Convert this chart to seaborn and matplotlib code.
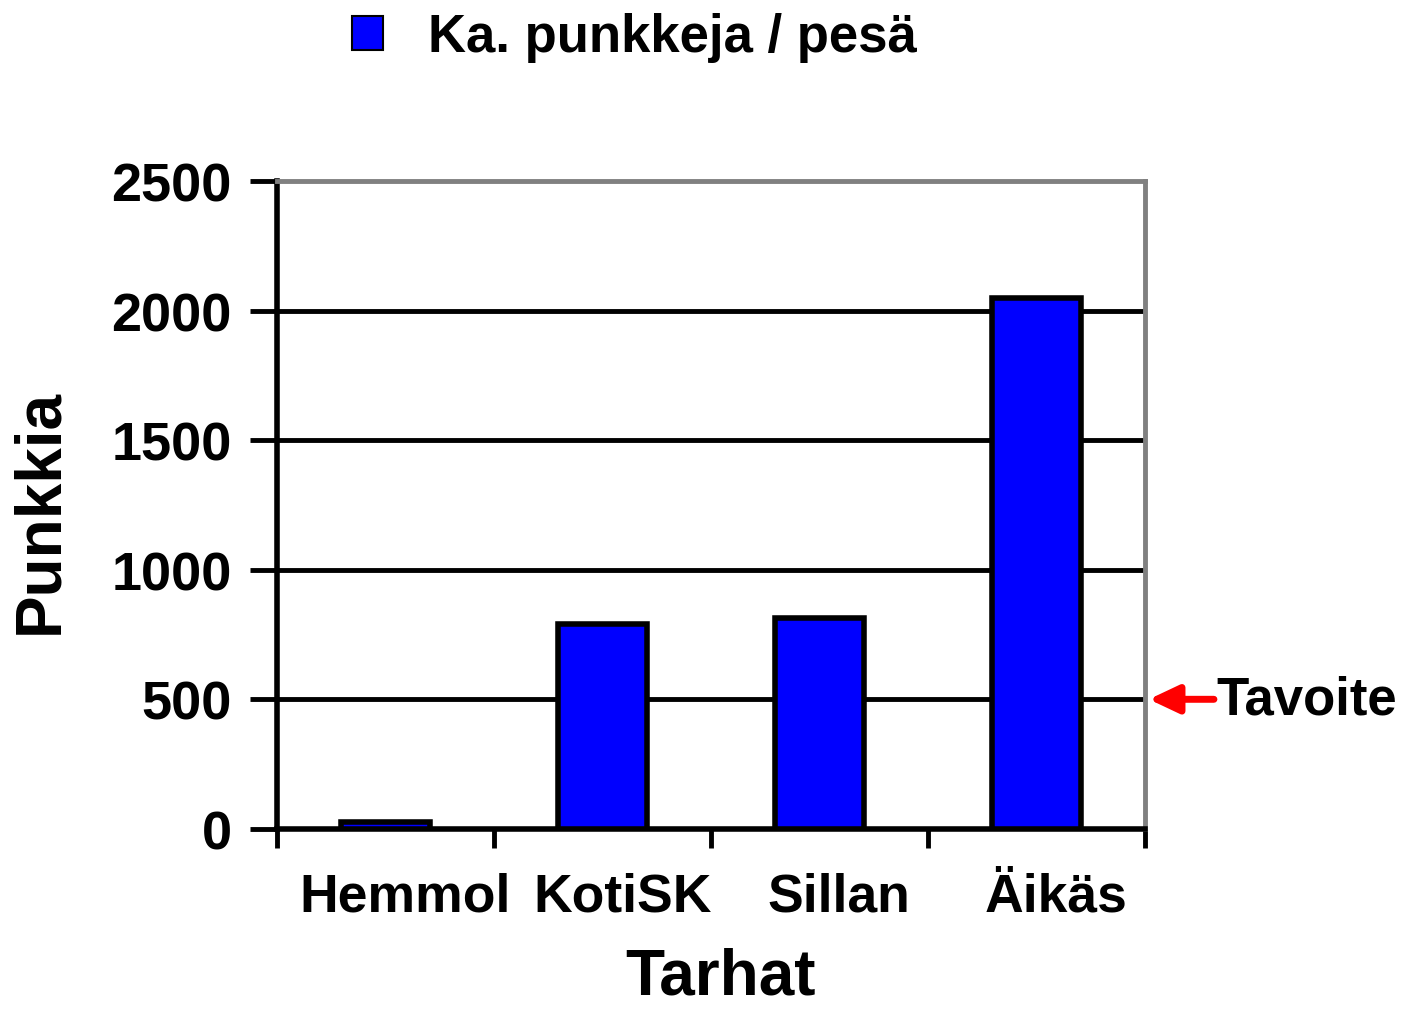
import numpy as np
import pandas as pd
import matplotlib.pyplot as plt
import matplotlib.patches as mpatches
import matplotlib.transforms as mtransforms
import seaborn as sns

# data
tarhat = ["Hemmol", "KotiSK", "Sillan", "Äikäs"]
punkkeja = [25, 790, 815, 2050]
tavoite = 500
yticks = [0, 500, 1000, 1500, 2000, 2500]

df = pd.DataFrame({"Tarhat": tarhat, "Punkkia": punkkeja})

sns.set_style("white")
plt.rcParams["font.family"] = ["Liberation Sans", "DejaVu Sans"]
plt.rcParams["font.weight"] = "bold"
for k in ["text.color", "axes.labelcolor", "xtick.color", "ytick.color"]:
    plt.rcParams[k] = "black"

fig = plt.figure(figsize=(14.13, 10.12), dpi=100)
ax = fig.add_axes([0.196, 0.180, 0.614, 0.640])

sns.barplot(data=df, x="Tarhat", y="Punkkia", ax=ax, color="#0000FF",
            width=0.41, edgecolor="black", linewidth=4, saturation=1, zorder=3)

ax.set_ylim(0, 2500)
ax.set_xlim(-0.5, len(tarhat) - 0.5)
ax.set_yticks(yticks)
ax.set_yticklabels([str(t) for t in yticks], fontsize=39, fontweight="bold")
for t in yticks[1:-1]:
    ax.axhline(t, color="black", lw=3.5, zorder=1)

ax.set_xticks(np.arange(len(tarhat)))
ax.set_xticklabels(tarhat, fontsize=38.5, fontweight="bold")
ax.tick_params(axis="x", length=0, pad=31)
ax.tick_params(axis="y", length=19.5, width=3.5, color="black", pad=13, left=True)
shift = mtransforms.ScaledTranslation(20 / 100, 0, fig.dpi_scale_trans)
for lbl in ax.get_xticklabels():
    lbl.set_transform(lbl.get_transform() + shift)
# category boundary ticks on x axis
for b in np.arange(len(tarhat) + 1) - 0.5:
    ax.plot([b, b], [0, -0.03], transform=ax.get_xaxis_transform(),
            color="black", lw=3.5, clip_on=False, solid_capstyle="butt")

for s in ["left", "bottom"]:
    ax.spines[s].set_color("black")
    ax.spines[s].set_linewidth(4)
for s in ["top", "right"]:
    ax.spines[s].set_color("#808080")
    ax.spines[s].set_linewidth(3.5)

ax.set_xlabel("Tarhat", fontsize=46, fontweight="bold", labelpad=18)
ax.xaxis.label.set_x(0.5115)
ax.set_ylabel("Punkkia", fontsize=46, fontweight="bold")
ax.yaxis.set_label_coords(-0.238, 0.492)

# target marker
ax.annotate("", xy=(1.005, tavoite), xycoords=("axes fraction", "data"),
            xytext=(1.08, tavoite), textcoords=("axes fraction", "data"),
            arrowprops=dict(arrowstyle="-|>,head_length=1.8,head_width=0.85",
                            color="red", lw=5, shrinkA=0, shrinkB=0))
ax.text(1.083, tavoite, "Tavoite", transform=ax.get_yaxis_transform(),
        fontsize=38, fontweight="bold", va="center", ha="left")

handle = mpatches.Patch(facecolor="#0000FF", edgecolor="black", linewidth=1.5,
                        label="Ka. punkkeja / pesä")
fig.legend(handles=[handle], loc="center", bbox_to_anchor=(0.449, 0.962),
           frameon=False, prop={"weight": "bold", "size": 38},
           handlelength=0.6, handleheight=0.6, handletextpad=0.85)

fig.savefig("out.png", dpi=100)
